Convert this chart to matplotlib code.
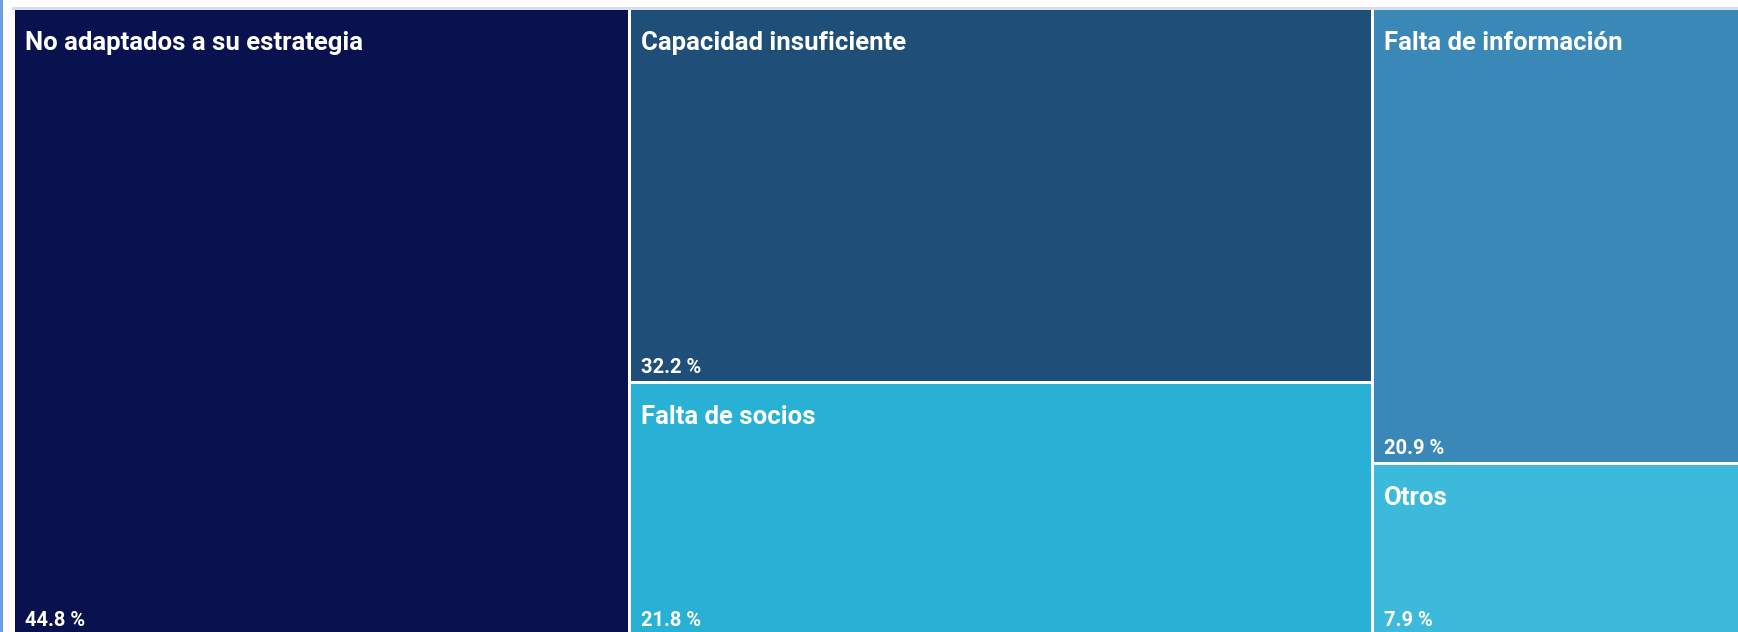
import matplotlib
matplotlib.use("Agg")
import matplotlib.pyplot as plt
from matplotlib.patches import Rectangle

plt.rcParams["font.family"] = ["Roboto", "DejaVu Sans"]

# --- data ---------------------------------------------------------------
categories = [
    "No adaptados a su estrategia",
    "Capacidad insuficiente",
    "Falta de socios",
    "Falta de información",
    "Otros",
]
values = [44.8, 32.2, 21.8, 20.9, 7.9]
colors = ["#0A114F", "#1F4E79", "#28B0D5", "#3A88B7", "#3DBADB"]

# treemap columns (indices into the lists above)
columns = [[0], [1, 2], [3, 4]]

# --- layout (pixel space) -----------------------------------------------
W_PX, H_PX = 1738, 632
X0, Y0 = 15, 10          # treemap origin
TW, TH = 1755, 627       # treemap extent (runs slightly past the canvas)
GAP = 3

fig = plt.figure(figsize=(W_PX / 100, H_PX / 100), dpi=100)
ax = fig.add_axes([0, 0, 1, 1])
ax.set_xlim(0, W_PX)
ax.set_ylim(H_PX, 0)
ax.axis("off")

# page decorations: thin blue strip at left, grey rule above
ax.add_patch(Rectangle((0, 0), 2.5, H_PX, color="#6C9FE2", lw=0))
ax.add_patch(Rectangle((12, 7), W_PX, 2.5, color="#DADFE7", lw=0))

total = sum(values)
x = X0
for col in columns:
    col_total = sum(values[i] for i in col)
    w = TW * col_total / total
    y = Y0
    for i in col:
        h = TH * values[i] / col_total
        ax.add_patch(Rectangle((x, y), w - GAP, h - GAP,
                               facecolor=colors[i], lw=0))
        ax.text(x + 10, y + 40, categories[i], color="white",
                fontsize=18.5, fontweight="bold", ha="left", va="baseline")
        ax.text(x + 10, y + h - GAP - 8, f"{values[i]:.1f} %", color="white",
                fontsize=14.5, fontweight="bold", ha="left", va="baseline")
        y += h
    x += w

fig.savefig("out.png", dpi=100)
